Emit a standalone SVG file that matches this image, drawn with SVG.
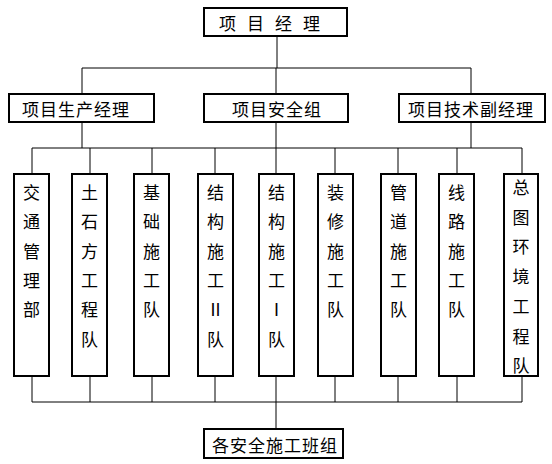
<svg xmlns="http://www.w3.org/2000/svg" width="552" height="464" viewBox="0 0 552 464">
<style>
.box{fill:#fff;stroke:#000;stroke-width:2}
.ln{fill:none;stroke:#000;stroke-width:1}
text{font-family:"Noto Sans CJK SC","Liberation Sans",sans-serif;font-size:17px;fill:#000;text-anchor:middle;dominant-baseline:central}
</style>
<rect width="552" height="464" fill="#fff"/>
<g id="connectors">
<path class="ln" d="M277 36V68M82 68H471M82 68V94M276 68V94M471 68V94"/>
<path class="ln" d="M82 122V148M276 122V148M471 122V148M32 148H522M32 148V174M90 148V174M152 148V174M215 148V174M276 148V174M335 148V174M398 148V174M457 148V174M522 148V174"/>
<path class="ln" d="M32 376V402M90 376V402M152 376V402M215 376V402M276 376V402M335 376V402M398 376V402M457 376V402M522 376V402M32 402H522M276 402V429"/>
</g>
<g id="pm"><rect class="box" x="204" y="8" width="143" height="28"/><text x="275" y="22" style="letter-spacing:11px">项目经理</text></g>
<g id="prod"><rect class="box" x="9" y="94" width="145" height="28"/><text x="76" y="108" style="letter-spacing:1px">项目生产经理</text></g>
<g id="safe"><rect class="box" x="204" y="94" width="144" height="28"/><text x="277" y="108" style="letter-spacing:1px">项目安全组</text></g>
<g id="tech"><rect class="box" x="399" y="94" width="146" height="28"/><text x="471" y="108" style="letter-spacing:1px">项目技术副经理</text></g>
<g id="t1"><rect class="box" x="14" y="174" width="35" height="202"/><text x="31.5" y="191"><tspan x="31.5" dy="0">交</tspan><tspan x="31.5" dy="29.3">通</tspan><tspan x="31.5" dy="29.3">管</tspan><tspan x="31.5" dy="29.3">理</tspan><tspan x="31.5" dy="29.3">部</tspan></text></g>
<g id="t2"><rect class="box" x="72" y="174" width="35" height="202"/><text x="89.5" y="191"><tspan x="89.5" dy="0">土</tspan><tspan x="89.5" dy="29.3">石</tspan><tspan x="89.5" dy="29.3">方</tspan><tspan x="89.5" dy="29.3">工</tspan><tspan x="89.5" dy="29.3">程</tspan><tspan x="89.5" dy="29.3">队</tspan></text></g>
<g id="t3"><rect class="box" x="134" y="174" width="35" height="202"/><text x="151.5" y="191"><tspan x="151.5" dy="0">基</tspan><tspan x="151.5" dy="29.3">础</tspan><tspan x="151.5" dy="29.3">施</tspan><tspan x="151.5" dy="29.3">工</tspan><tspan x="151.5" dy="29.3">队</tspan></text></g>
<g id="t4"><rect class="box" x="198" y="174" width="35" height="202"/><text x="215.5" y="191"><tspan x="215.5" dy="0">结</tspan><tspan x="215.5" dy="29.3">构</tspan><tspan x="215.5" dy="29.3">施</tspan><tspan x="215.5" dy="29.3">工</tspan><tspan x="215.5" dy="29.3">Ⅱ</tspan><tspan x="215.5" dy="29.3">队</tspan></text></g>
<g id="t5"><rect class="box" x="259" y="174" width="35" height="202"/><text x="276.5" y="191"><tspan x="276.5" dy="0">结</tspan><tspan x="276.5" dy="29.3">构</tspan><tspan x="276.5" dy="29.3">施</tspan><tspan x="276.5" dy="29.3">工</tspan><tspan x="276.5" dy="29.3">Ⅰ</tspan><tspan x="276.5" dy="29.3">队</tspan></text></g>
<g id="t6"><rect class="box" x="318" y="174" width="35" height="202"/><text x="335.5" y="191"><tspan x="335.5" dy="0">装</tspan><tspan x="335.5" dy="29.3">修</tspan><tspan x="335.5" dy="29.3">施</tspan><tspan x="335.5" dy="29.3">工</tspan><tspan x="335.5" dy="29.3">队</tspan></text></g>
<g id="t7"><rect class="box" x="381" y="174" width="35" height="202"/><text x="398.5" y="191"><tspan x="398.5" dy="0">管</tspan><tspan x="398.5" dy="29.3">道</tspan><tspan x="398.5" dy="29.3">施</tspan><tspan x="398.5" dy="29.3">工</tspan><tspan x="398.5" dy="29.3">队</tspan></text></g>
<g id="t8"><rect class="box" x="439" y="174" width="35" height="202"/><text x="456.5" y="191"><tspan x="456.5" dy="0">线</tspan><tspan x="456.5" dy="29.3">路</tspan><tspan x="456.5" dy="29.3">施</tspan><tspan x="456.5" dy="29.3">工</tspan><tspan x="456.5" dy="29.3">队</tspan></text></g>
<g id="t9"><rect class="box" x="504" y="174" width="34" height="202"/><text x="521" y="186"><tspan x="521" dy="0">总</tspan><tspan x="521" dy="29.7">图</tspan><tspan x="521" dy="29.7">环</tspan><tspan x="521" dy="29.7">境</tspan><tspan x="521" dy="29.7">工</tspan><tspan x="521" dy="29.7">程</tspan><tspan x="521" dy="29.7">队</tspan></text></g>
<g id="crews"><rect class="box" x="204" y="429" width="139" height="29"/><text x="275" y="444" style="letter-spacing:1px">各安全施工班组</text></g>
</svg>
